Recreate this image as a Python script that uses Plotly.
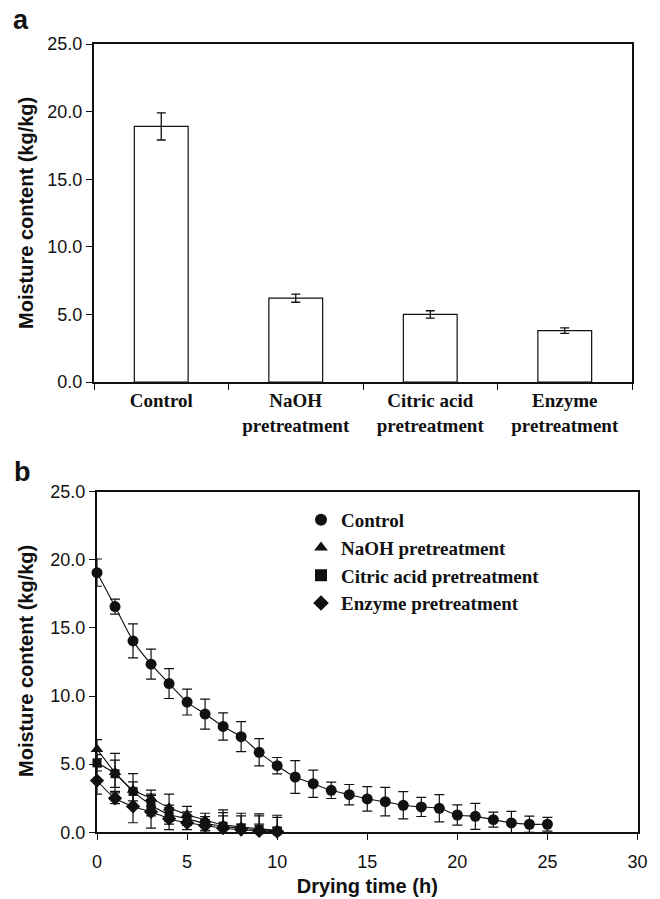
import plotly.graph_objects as go

# ---------------- Panel a data ----------------
bar_categories = ["Control", "NaOH<br>pretreatment", "Citric acid<br>pretreatment", "Enzyme<br>pretreatment"]
bar_values = [18.9, 6.2, 5.0, 3.8]
bar_errors = [1.0, 0.3, 0.27, 0.2]

# ---------------- Panel b data ----------------
series_names = ["Control", "NaOH pretreatment", "Citric acid pretreatment", "Enzyme pretreatment"]
time_control = list(range(26))
control_values = [19.06, 16.57, 14.05, 12.34, 10.92, 9.56, 8.68, 7.77, 7.02, 5.87, 4.89, 4.06, 3.57,
                  3.08, 2.76, 2.45, 2.25, 1.98, 1.86, 1.76, 1.27, 1.17, 0.93, 0.69, 0.59, 0.59]
control_errors = [1.0, 0.55, 1.25, 1.1, 1.1, 0.95, 1.1, 1.0, 1.1, 1.0, 0.6, 1.2, 1.0,
                  0.6, 0.75, 0.9, 1.05, 1.0, 0.7, 1.0, 0.75, 0.95, 0.55, 0.85, 0.6, 0.5]

time_short = list(range(11))
naoh_values = [6.1, 4.4, 3.1, 2.5, 1.8, 1.3, 0.9, 0.55, 0.4, 0.25, 0.15]
naoh_errors = [0.7, 1.4, 1.2, 0.6, 1.0, 0.6, 0.5, 1.1, 1.0, 1.1, 1.1]
citric_values = [5.1, 4.3, 3.0, 2.0, 1.3, 1.0, 0.65, 0.45, 0.3, 0.2, 0.1]
citric_errors = [0.6, 1.0, 0.7, 0.8, 0.7, 0.5, 0.5, 1.0, 0.9, 1.0, 1.0]
enzyme_values = [3.8, 2.5, 1.9, 1.5, 1.0, 0.7, 0.5, 0.3, 0.2, 0.1, 0.05]
enzyme_errors = [1.0, 0.4, 1.2, 1.2, 0.8, 0.5, 0.4, 0.9, 0.4, 0.5, 0.3]

W, H = 660, 899
BLACK = "#111111"
SANS = "Liberation Sans, Arial, sans-serif"
SERIF = "Liberation Serif, Times New Roman, serif"

def px_x(v):
    return v / W

def px_y(v):
    return 1 - v / H

fig = go.Figure()

# Panel a bars
fig.add_trace(go.Bar(
    x=bar_categories, y=bar_values, width=0.4,
    marker=dict(color="white", line=dict(color=BLACK, width=1.2)),
    error_y=dict(type="data", array=bar_errors, color=BLACK, thickness=1.3, width=4.5),
    showlegend=False, xaxis="x", yaxis="y",
))

# Panel b lines (smoothed, through points)
series = [
    (time_control, control_values, control_errors, "circle", 11),
    (time_short, naoh_values, naoh_errors, "triangle-up", 11),
    (time_short, citric_values, citric_errors, "square", 9),
    (time_short, enzyme_values, enzyme_errors, "diamond", 11),
]
for xs, ys, _, _, _ in series:
    fig.add_trace(go.Scatter(
        x=xs, y=ys, mode="lines", line=dict(color=BLACK, width=1.1, shape="spline", smoothing=0.8),
        showlegend=False, hoverinfo="skip", xaxis="x2", yaxis="y2",
    ))
for name, (xs, ys, es, sym, sz) in zip(series_names, series):
    fig.add_trace(go.Scatter(
        x=xs, y=ys, mode="markers", name=name, cliponaxis=False,
        marker=dict(symbol=sym, size=sz, color=BLACK),
        error_y=dict(type="data", array=es, color=BLACK, thickness=1.2, width=5),
        xaxis="x2", yaxis="y2",
    ))

axis_common = dict(
    showline=True, linecolor=BLACK, linewidth=2, mirror=True,
    ticks="outside", tickcolor=BLACK, tickwidth=1, ticklen=6,
    showgrid=False, zeroline=False, automargin=False,
)

fig.update_layout(
    width=W, height=H, template="none",
    paper_bgcolor="white", plot_bgcolor="white",
    margin=dict(l=0, r=0, t=0, b=0),
    bargap=0.6,
    xaxis=dict(
        **axis_common, domain=[px_x(94), px_x(632)], anchor="y",
        type="category", tickson="boundaries",
        tickfont=dict(family=SERIF, size=19, color=BLACK, weight="bold"),
    ),
    yaxis=dict(
        **axis_common, domain=[px_y(382), px_y(44)], anchor="x",
        range=[0, 25], dtick=5, tickformat=".1f",
        tickfont=dict(family=SANS, size=18, color=BLACK),
    ),
    xaxis2=dict(
        **axis_common, domain=[px_x(97), px_x(637.5)], anchor="y2",
        range=[0, 30], dtick=5, ticklabelstandoff=6,
        tickfont=dict(family=SANS, size=18, color=BLACK),
        title=dict(text="Drying time (h)", standoff=8,
                   font=dict(family=SANS, size=20, color=BLACK, weight="bold")),
    ),
    yaxis2=dict(
        **axis_common, domain=[px_y(832.3), px_y(491.7)], anchor="x2",
        range=[0, 25], dtick=5, tickformat=".1f",
        tickfont=dict(family=SANS, size=18, color=BLACK),
    ),
    legend=dict(
        x=px_x(301), y=px_y(501), xanchor="left", yanchor="top",
        bgcolor="rgba(0,0,0,0)", borderwidth=0,
        font=dict(family=SERIF, size=19, color=BLACK, weight="bold"),
        itemsizing="constant", tracegroupgap=0,
    ),
    annotations=[
        dict(text="a", x=px_x(21), y=px_y(20), xref="paper", yref="paper", showarrow=False,
             xanchor="center", yanchor="middle",
             font=dict(family=SANS, size=27, color=BLACK, weight="bold")),
        dict(text="b", x=px_x(22), y=px_y(472), xref="paper", yref="paper", showarrow=False,
             xanchor="center", yanchor="middle",
             font=dict(family=SANS, size=27, color=BLACK, weight="bold")),
        dict(text="Moisture content (kg/kg)", x=px_x(26), y=px_y(213), xref="paper", yref="paper",
             showarrow=False, textangle=-90, xanchor="center", yanchor="middle",
             font=dict(family=SANS, size=20, color=BLACK, weight="bold")),
        dict(text="Moisture content (kg/kg)", x=px_x(26), y=px_y(661), xref="paper", yref="paper",
             showarrow=False, textangle=-90, xanchor="center", yanchor="middle",
             font=dict(family=SANS, size=20, color=BLACK, weight="bold")),
    ],
)

fig.write_html("out.html", config={"displayModeBar": False},
               post_script="document.body.style.margin='0';document.body.style.overflow='hidden';")
